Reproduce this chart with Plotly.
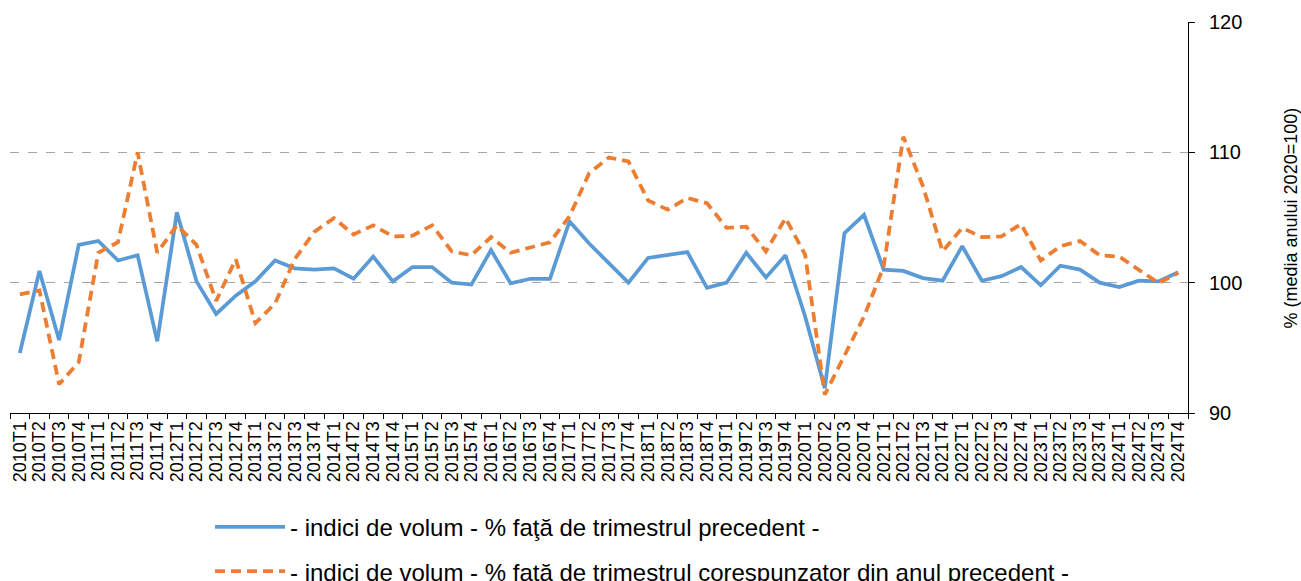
import plotly.graph_objects as go

years = list(range(2010, 2025))
quarters = [f"{y}T{q}" for y in years for q in range(1, 5)]

prev_quarter = [
    94.6, 100.9, 95.6, 102.9,
    103.2, 101.7, 102.1, 95.5,
    105.4, 100.1, 97.6, 99.0,
    100.1, 101.7, 101.1, 101.0,
    101.1, 100.3, 102.0, 100.1,
    101.2, 101.2, 100.0, 99.85,
    102.5, 99.95, 100.3, 100.3,
    104.7, 103.0, 101.5, 100.0,
    101.9, 102.1, 102.35, 99.6,
    100.0, 102.3, 100.4, 102.1,
    97.4, 91.9, 103.8, 105.2,
    101.0, 100.9, 100.35, 100.15,
    102.8, 100.15, 100.5, 101.2,
    99.8, 101.3, 101.0, 100.0,
    99.67, 100.15, 100.1, 100.8,
]

same_quarter_prev_year = [
    99.1, 99.4, 92.2, 93.9,
    102.3, 103.1, 110.0, 102.3,
    104.4, 102.9, 98.6, 101.8,
    96.9, 98.4, 101.8, 103.9,
    104.95, 103.7, 104.4, 103.55,
    103.6, 104.4, 102.4, 102.1,
    103.5, 102.3, 102.7, 103.1,
    105.1, 108.4, 109.6, 109.3,
    106.3, 105.6, 106.5, 106.1,
    104.2, 104.3, 102.4, 104.95,
    102.15, 91.4, 94.4, 97.4,
    101.25, 111.2, 107.4, 102.4,
    104.2, 103.5, 103.55, 104.5,
    101.7, 102.8, 103.2, 102.1,
    102.0, 100.95, 99.97, 100.75,
]

name1 = "- indici de volum - % faţă de trimestrul precedent -"
name2 = "- indici de volum - % faţă de trimestrul corespunzator din anul precedent -"
y_title = "% (media anului 2020=100)"

FONT = "Arial, 'Liberation Sans', sans-serif"

fig = go.Figure()
fig.add_trace(go.Scatter(
    x=quarters, y=prev_quarter, mode="lines", name=name1,
    line=dict(color="#5B9BD5", width=3.75), legend="legend",
))
fig.add_trace(go.Scatter(
    x=quarters, y=same_quarter_prev_year, mode="lines", name=name2,
    line=dict(color="#ED7D31", width=3.75, dash="10px,6px"), legend="legend2",
))

fig.update_layout(
    width=1301, height=581,
    margin=dict(l=10, r=113, t=22, b=168, autoexpand=False),
    paper_bgcolor="white", plot_bgcolor="white",
    font=dict(family=FONT, color="black"),
    showlegend=True,
    legend=dict(
        x=0.1698, y=-0.235, xanchor="left", yanchor="top",
        font=dict(size=24, family=FONT, color="black"),
        bgcolor="rgba(0,0,0,0)", itemwidth=70,
    ),
    legend2=dict(
        x=0.1698, y=-0.348, xanchor="left", yanchor="top",
        font=dict(size=24, family=FONT, color="black"),
        bgcolor="rgba(0,0,0,0)", itemwidth=70,
    ),
    xaxis=dict(
        type="category", automargin=False, dtick=1, tick0=0,
        showline=True, linecolor="black", linewidth=1,
        ticks="outside", ticklen=5, tickcolor="black", tickson="boundaries",
        tickangle=-90, tickfont=dict(size=18, family=FONT, color="black"),
        showgrid=False, zeroline=False,
        range=[-0.5, len(quarters) - 0.5],
    ),
    yaxis=dict(
        side="right", range=[90, 120], dtick=10, tick0=90, automargin=False,
        showline=True, linecolor="black", linewidth=1,
        ticks="outside", ticklen=6, tickcolor="black", ticklabelstandoff=10,
        tickfont=dict(size=20, family=FONT, color="black"),
        showgrid=True, gridcolor="#A6A6A6", griddash="dash", gridwidth=1,
        zeroline=False,
    ),
    annotations=[dict(
        text=y_title, textangle=-90, xref="paper", yref="paper",
        x=1.0874, y=0.5, xanchor="center", yanchor="middle", showarrow=False,
        font=dict(size=18, family=FONT, color="black"),
    )],
)

fig.write_html(
    "out.html",
    config={"displayModeBar": False},
    post_script="document.body.style.margin='0px';",
)
